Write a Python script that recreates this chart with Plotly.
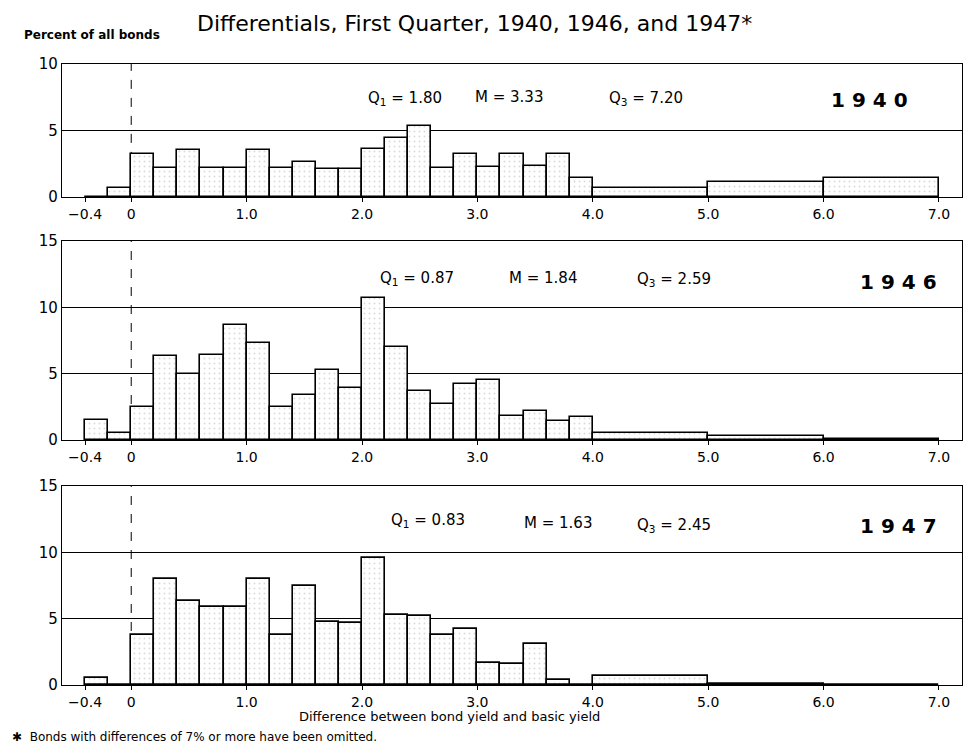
import plotly.graph_objects as go

# ---- data -----------------------------------------------------------------
bin_lo = [-0.4, -0.2, 0.0, 0.2, 0.4, 0.6, 0.8, 1.0, 1.2, 1.4, 1.6, 1.8,
          2.0, 2.2, 2.4, 2.6, 2.8, 3.0, 3.2, 3.4, 3.6, 3.8, 4.0, 5.0, 6.0]
bin_hi = [-0.2, 0.0, 0.2, 0.4, 0.6, 0.8, 1.0, 1.2, 1.4, 1.6, 1.8, 2.0,
          2.2, 2.4, 2.6, 2.8, 3.0, 3.2, 3.4, 3.6, 3.8, 4.0, 5.0, 6.0, 7.0]

years = ["1940", "1946", "1947"]

pct_1940 = [0.0, 0.7, 3.2, 2.2, 3.5, 2.2, 2.2, 3.5, 2.2, 2.6, 2.1, 2.1,
            3.6, 4.4, 5.3, 2.2, 3.2, 2.25, 3.2, 2.3, 3.2, 1.4, 0.7, 1.1, 1.4]
pct_1946 = [1.5, 0.5, 2.5, 6.35, 5.0, 6.4, 8.7, 7.3, 2.5, 3.4, 5.3, 3.9,
            10.7, 7.0, 3.7, 2.75, 4.2, 4.5, 1.8, 2.2, 1.4, 1.7, 0.55, 0.3, 0.1]
pct_1947 = [0.55, 0.0, 3.8, 8.0, 6.3, 5.9, 5.85, 8.0, 3.8, 7.45, 4.75, 4.7,
            9.6, 5.3, 5.2, 3.8, 4.2, 1.65, 1.6, 3.1, 0.4, 0.0, 0.65, 0.1, 0.0]

q1_vals = ["1.80", "0.87", "0.83"]
median_vals = ["3.33", "1.84", "1.63"]
q3_vals = ["7.20", "2.59", "2.45"]

x_tick_vals = [-0.4, 0, 1, 2, 3, 4, 5, 6, 7]
x_tick_text = ["\u22120.4", "0", "1.0", "2.0", "3.0", "4.0", "5.0", "6.0", "7.0"]
y_max = [10, 15, 15]

# ---- figure ---------------------------------------------------------------
FONT = "DejaVu Sans"
series = [pct_1940, pct_1946, pct_1947]
domains = [[0.786, 1.0], [0.3945, 0.715], [0.0, 0.3205]]

fig = go.Figure()
centers = [(a + b) / 2 for a, b in zip(bin_lo, bin_hi)]
widths = [b - a for a, b in zip(bin_lo, bin_hi)]

for i, vals in enumerate(series):
    n = "" if i == 0 else str(i + 1)
    fig.add_trace(go.Bar(
        x=centers, y=vals, width=widths,
        xaxis="x" + n, yaxis="y" + n,
        marker=dict(color="white",
                    line=dict(color="black", width=1.6),
                    pattern=dict(shape=".", fgcolor="#b5b5b5", bgcolor="white",
                                 size=5, solidity=0.12)),
        showlegend=False, hoverinfo="x+y",
    ))
    fig.update_layout(**{
        "xaxis" + n: dict(domain=[0, 1], anchor="y" + n, range=[-0.6, 7.2],
                          tickvals=x_tick_vals, ticktext=x_tick_text,
                          ticks="outside", ticklen=4, tickcolor="black",
                          showgrid=False, zeroline=False,
                          showline=True, linecolor="black", linewidth=1.4,
                          mirror=True,
                          tickfont=dict(family=FONT, size=14, color="black")),
        "yaxis" + n: dict(domain=domains[i], anchor="x" + n,
                          range=[0, y_max[i]], tickvals=list(range(0, y_max[i] + 1, 5)),
                          showgrid=True, gridcolor="black", gridwidth=1,
                          zeroline=False, showline=True, linecolor="black",
                          linewidth=1.4, mirror=True, ticks="",
                          tickfont=dict(family=FONT, size=15, color="black")),
    })
    # dashed vertical line at zero difference
    fig.add_shape(type="line", xref="x" + n, yref="y" + n,
                  x0=0, x1=0, y0=0, y1=y_max[i],
                  line=dict(color="black", width=1, dash="dash"), layer="below")

# statistics annotations
stat_pos = [
    dict(q1=(2.37, 7.4), m=(3.27, 7.5), q3=(4.46, 7.4), yr=(6.4, 7.3)),
    dict(q1=(2.48, 12.2), m=(3.57, 12.2), q3=(4.7, 12.1), yr=(6.65, 11.9)),
    dict(q1=(2.57, 12.4), m=(3.7, 12.2), q3=(4.7, 12.0), yr=(6.65, 12.0)),
]
for i in range(3):
    n = "" if i == 0 else str(i + 1)
    p = stat_pos[i]
    items = [
        (p["q1"], "Q<sub>1</sub> = " + q1_vals[i], 15),
        (p["m"], "M = " + median_vals[i], 15),
        (p["q3"], "Q<sub>3</sub> = " + q3_vals[i], 15),
        (p["yr"], "<b>" + " ".join(years[i]) + "</b>", 20),
    ]
    for (xx, yy), txt, sz in items:
        fig.add_annotation(x=xx, y=yy, xref="x" + n, yref="y" + n, text=txt,
                           showarrow=False, yanchor="middle",
                           font=dict(family=FONT, size=sz, color="black"))

# titles and notes
fig.add_annotation(xref="paper", yref="paper", x=0.458, y=1.066, yanchor="middle",
                   text="Differentials, First Quarter, 1940, 1946, and 1947*",
                   showarrow=False, font=dict(family=FONT, size=22, color="black"))
fig.add_annotation(xref="paper", yref="paper", x=-0.044, y=1.046, yanchor="middle",
                   xanchor="left", text="<b>Percent of all bonds</b>",
                   showarrow=False, font=dict(family=FONT, size=12, color="black"))
fig.add_annotation(xref="paper", yref="paper", x=0.43, y=-0.051, yanchor="middle",
                   text="Difference between bond yield and basic yield",
                   showarrow=False, font=dict(family=FONT, size=13, color="black"))
fig.add_annotation(xref="paper", yref="paper", x=-0.058, y=-0.0835, yanchor="middle",
                   xanchor="left",
                   text="\u2731  Bonds with differences of 7% or more have been omitted.",
                   showarrow=False, font=dict(family=FONT, size=12, color="black"))

fig.update_layout(
    width=976, height=746,
    margin=dict(l=54, r=22, t=56, b=69),
    paper_bgcolor="white", plot_bgcolor="white",
    bargap=0,
    font=dict(family=FONT, color="black"),
)

fig.write_html("out.html")
